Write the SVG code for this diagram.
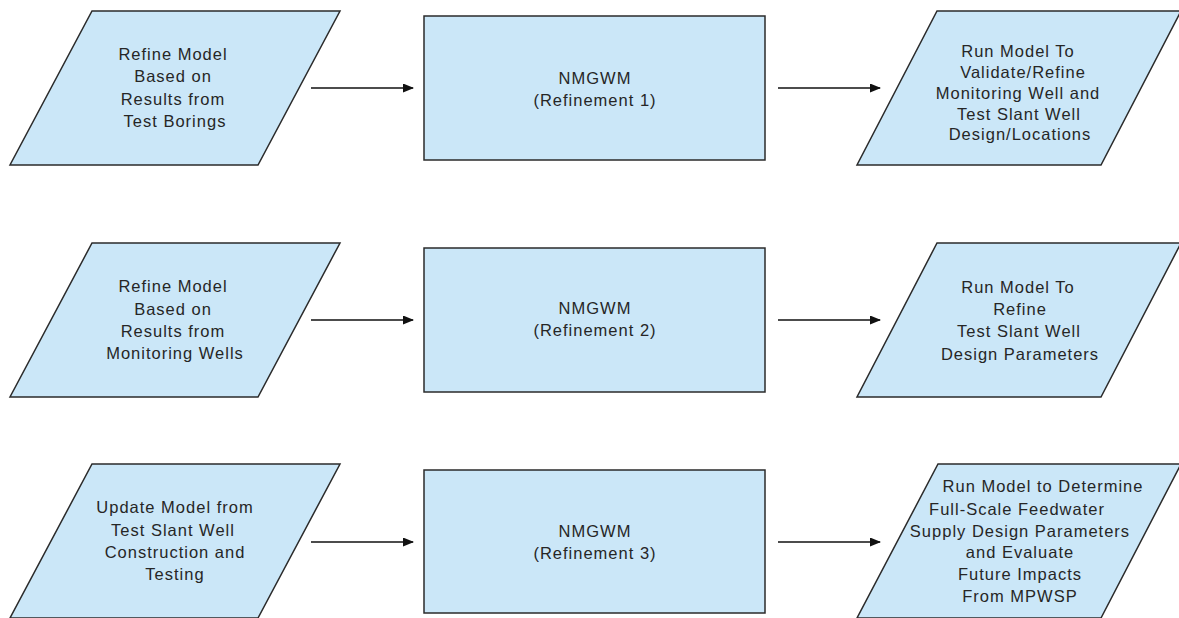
<svg xmlns="http://www.w3.org/2000/svg" width="1179" height="618" viewBox="0 0 1179 618">
<style>
.shape{fill:#cbe7f8;stroke:#2b2b2b;stroke-width:1.5}
.t{font-family:"Liberation Sans",Arial,sans-serif;font-size:16.5px;fill:#262626;text-anchor:middle;letter-spacing:1px}
.c{stroke:#111;stroke-width:1.5;fill:none;marker-end:url(#ah)}
</style>
<defs>
<marker id="ah" markerWidth="11" markerHeight="9" refX="10" refY="4.5" orient="auto" markerUnits="userSpaceOnUse">
<path d="M0,0 L11,4.5 L0,9 Z" fill="#111"/>
</marker>
</defs>
<rect width="1179" height="618" fill="#fff"/>
<g id="connectors">
<line class="c" x1="311" y1="88" x2="413" y2="88"/>
<line class="c" x1="778" y1="88" x2="880" y2="88"/>
<line class="c" x1="311" y1="320" x2="413" y2="320"/>
<line class="c" x1="778" y1="320" x2="880" y2="320"/>
<line class="c" x1="311" y1="542" x2="413" y2="542"/>
<line class="c" x1="778" y1="542" x2="880" y2="542"/>
</g>
<g id="n1">
<polygon class="shape" points="92,11 340,11 258,165 10,165"/>
<text class="t"><tspan x="173" y="60">Refine Model</tspan><tspan x="173" y="82">Based on</tspan><tspan x="173" y="105">Results from</tspan><tspan x="175" y="127">Test Borings</tspan></text>
</g>
<g id="n2">
<rect class="shape" x="424" y="16" width="341" height="144"/>
<text class="t"><tspan x="595" y="84">NMGWM</tspan><tspan x="595" y="106">(Refinement 1)</tspan></text>
</g>
<g id="n3">
<polygon class="shape" points="937,11 1181,11 1101,165 857,165"/>
<text class="t"><tspan x="1018" y="57">Run Model To</tspan><tspan x="1023" y="78">Validate/Refine</tspan><tspan x="1018" y="99">Monitoring Well and</tspan><tspan x="1019" y="120">Test Slant Well</tspan><tspan x="1020" y="140">Design/Locations</tspan></text>
</g>
<g id="n4">
<polygon class="shape" points="92,243 340,243 258,397 10,397"/>
<text class="t"><tspan x="173" y="292">Refine Model</tspan><tspan x="173" y="315">Based on</tspan><tspan x="173" y="337">Results from</tspan><tspan x="175" y="359">Monitoring Wells</tspan></text>
</g>
<g id="n5">
<rect class="shape" x="424" y="248" width="341" height="144"/>
<text class="t"><tspan x="595" y="314">NMGWM</tspan><tspan x="595" y="336">(Refinement 2)</tspan></text>
</g>
<g id="n6">
<polygon class="shape" points="937,243 1181,243 1101,397 857,397"/>
<text class="t"><tspan x="1018" y="293">Run Model To</tspan><tspan x="1020" y="315">Refine</tspan><tspan x="1019" y="337">Test Slant Well</tspan><tspan x="1020" y="360">Design Parameters</tspan></text>
</g>
<g id="n7">
<polygon class="shape" points="92,464 340,464 258,618 10,618"/>
<text class="t"><tspan x="175" y="513">Update Model from</tspan><tspan x="173" y="536">Test Slant Well</tspan><tspan x="175" y="558">Construction and</tspan><tspan x="175" y="580">Testing</tspan></text>
</g>
<g id="n8">
<rect class="shape" x="424" y="470" width="341" height="143"/>
<text class="t"><tspan x="595" y="537">NMGWM</tspan><tspan x="595" y="559">(Refinement 3)</tspan></text>
</g>
<g id="n9">
<polygon class="shape" points="938,464 1181,464 1101,618 857,618"/>
<text class="t"><tspan x="1043" y="492">Run Model to Determine</tspan><tspan x="1017" y="515">Full-Scale Feedwater</tspan><tspan x="1020" y="537">Supply Design Parameters</tspan><tspan x="1020" y="558">and Evaluate</tspan><tspan x="1020" y="580">Future Impacts</tspan><tspan x="1020" y="602">From MPWSP</tspan></text>
</g>
</svg>
